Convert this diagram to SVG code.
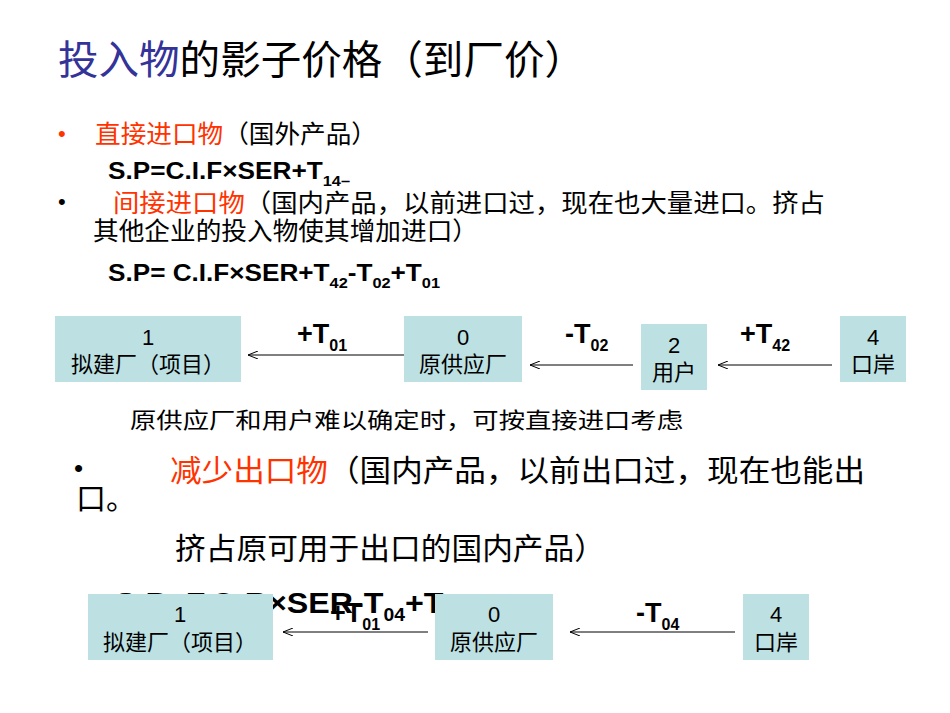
<svg xmlns="http://www.w3.org/2000/svg" width="950" height="713" viewBox="0 0 950 713">
<style>
text{font-family:"Liberation Sans","Noto Sans CJK SC",sans-serif;fill:#000}
.f{font-weight:bold}
.r{fill:#ff3300}
.box{fill:#bde0e3}
.bt{font-size:22px;text-anchor:middle}
.lab{font-size:27px;font-weight:bold}
.c{stroke:#000;stroke-width:1;fill:none;marker-end:url(#ah)}
</style>
<defs><marker id="ah" markerWidth="10" markerHeight="8" refX="10" refY="4" orient="auto" markerUnits="userSpaceOnUse"><path d="M0,0 L10,4 L0,8" fill="none" stroke="#000"/></marker></defs>
<rect width="950" height="713" fill="#fff"/>
<text x="58" y="74" font-size="40" textLength="527" lengthAdjust="spacingAndGlyphs"><tspan fill="#333399">投入物</tspan>的影子价格（到厂价）</text>
<text x="58" y="141" font-size="22" class="r">•</text>
<text x="95" y="143" font-size="25" textLength="282" lengthAdjust="spacingAndGlyphs"><tspan class="r">直接进口物</tspan>（国外产品）</text>
<text x="108" y="179" class="f" font-size="24" textLength="242" lengthAdjust="spacingAndGlyphs">S.P=C.I.F×SER+T<tspan font-size="15" dy="7">14–</tspan></text>
<text x="58" y="209" font-size="22">•</text>
<text x="113" y="212" font-size="25" textLength="712" lengthAdjust="spacingAndGlyphs"><tspan class="r">间接进口物</tspan>（国内产品，以前进口过，现在也大量进口。挤占</text>
<text x="93" y="240" font-size="25" textLength="385" lengthAdjust="spacingAndGlyphs">其他企业的投入物使其增加进口）</text>
<text x="108" y="281" class="f" font-size="24" textLength="332" lengthAdjust="spacingAndGlyphs">S.P= C.I.F×SER+T<tspan font-size="15" dy="7">42</tspan><tspan dy="-7">-T</tspan><tspan font-size="15" dy="7">02</tspan><tspan dy="-7">+T</tspan><tspan font-size="15" dy="7">01</tspan></text>
<g id="connectors">
<path class="c" d="M404,355 H248"/>
<path class="c" d="M633,365 H530"/>
<path class="c" d="M832,365 H718"/>
<path class="c" d="M428,632 H283"/>
<path class="c" d="M735,632 H570"/>
</g>
<g id="n1"><rect class="box" x="55" y="316" width="186" height="66"/><text class="bt" x="148" y="345">1</text><text class="bt" x="148" y="372">拟建厂（项目）</text></g>
<g id="n0"><rect class="box" x="404" y="316" width="118" height="66"/><text class="bt" x="463" y="345">0</text><text class="bt" x="463" y="372">原供应厂</text></g>
<g id="n2"><rect class="box" x="641" y="324" width="66" height="66"/><text class="bt" x="674" y="353">2</text><text class="bt" x="674" y="380">用户</text></g>
<g id="n4"><rect class="box" x="840" y="316" width="66" height="66"/><text class="bt" x="873" y="345">4</text><text class="bt" x="873" y="372">口岸</text></g>
<text x="297" y="343" class="lab">+T<tspan font-size="16" dy="8">01</tspan></text>
<text x="565" y="343" class="lab">-T<tspan font-size="16" dy="8">02</tspan></text>
<text x="740" y="343" class="lab">+T<tspan font-size="16" dy="8">42</tspan></text>
<text x="130" y="428" font-size="22" textLength="553" lengthAdjust="spacingAndGlyphs">原供应厂和用户难以确定时，可按直接进口考虑</text>
<text x="74" y="477" font-size="26">•</text>
<text x="170" y="481" font-size="30" textLength="695" lengthAdjust="spacingAndGlyphs"><tspan class="r">减少出口物</tspan>（国内产品，以前出口过，现在也能出</text>
<text x="76" y="509" font-size="30" textLength="60" lengthAdjust="spacingAndGlyphs">口。</text>
<text x="175" y="559" font-size="30" textLength="430" lengthAdjust="spacingAndGlyphs">挤占原可用于出口的国内产品）</text>
<text x="115" y="613" font-size="30" font-weight="bold" textLength="350" lengthAdjust="spacingAndGlyphs">S.P=F.O.B×SER-T<tspan font-size="18" dy="8">04</tspan><tspan dy="-8">+T</tspan><tspan font-size="18" dy="8">01</tspan></text>
<g id="m1"><rect class="box" x="88" y="594" width="185" height="66"/><text class="bt" x="180" y="622">1</text><text class="bt" x="180" y="650">拟建厂（项目）</text></g>
<g id="m0"><rect class="box" x="435" y="594" width="118" height="66"/><text class="bt" x="494" y="622">0</text><text class="bt" x="494" y="650">原供应厂</text></g>
<g id="m4"><rect class="box" x="743" y="594" width="66" height="66"/><text class="bt" x="776" y="622">4</text><text class="bt" x="776" y="650">口岸</text></g>
<text x="330" y="622" class="lab">+T<tspan font-size="16" dy="8">01</tspan></text>
<text x="636" y="622" class="lab">-T<tspan font-size="16" dy="8">04</tspan></text>
</svg>
